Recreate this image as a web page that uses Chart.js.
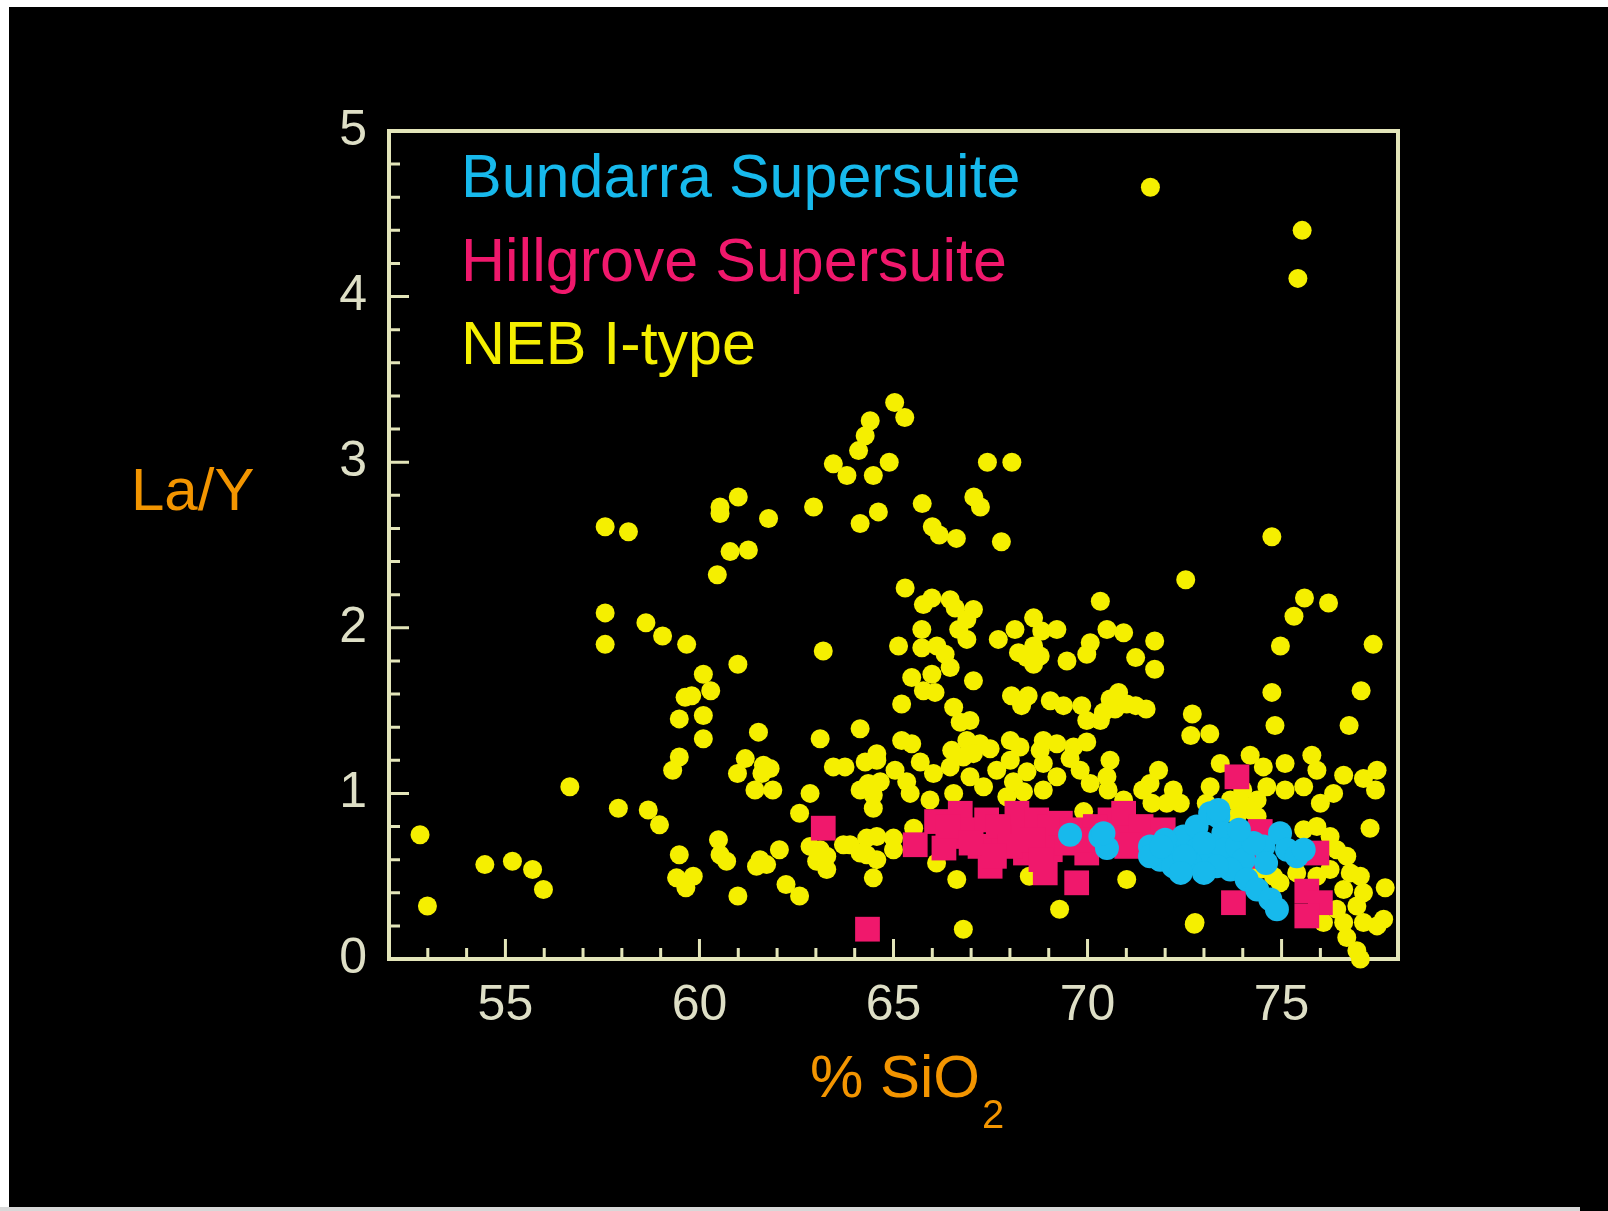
<!DOCTYPE html>
<html lang="en">
<head>
<meta charset="UTF-8">
<title>La/Y vs SiO2</title>
<script src="https://cdn.jsdelivr.net/npm/chart.js"></script>
<style>
    html, body { margin: 0; padding: 0; background: #000; }
    body { width: 1608px; height: 1211px; position: relative; overflow: hidden; }
    #edgeTop { position: absolute; left: 0; top: 0; width: 1608px; height: 7px; background: #fff; }
    #edgeLeft { position: absolute; left: 0; top: 0; width: 9px; height: 1211px; background: #fff; }
    #edgeBottom { position: absolute; left: 0; top: 1207px; width: 1580px; height: 4px; background: #d8d8d8; }
    #chart { position: absolute; left: 0; top: 0; }
</style>
</head>
<body>
<div id="edgeTop"></div>
<div id="edgeLeft"></div>
<div id="edgeBottom"></div>
<canvas id="chart" width="1608" height="1211"></canvas>
<script>
// [SiO2 %, La/Y]
const bundarra = [
    [69.55,0.75],[70.33,0.74],[70.50,0.67],[70.41,0.76],
    [71.61,0.68],[71.87,0.60],[72.21,0.66],[72.47,0.74],[72.81,0.80],[73.16,0.88],[73.37,0.86],[73.50,0.76],
    [72.81,0.66],[73.16,0.60],[73.50,0.66],[73.85,0.68],[74.02,0.60],[73.68,0.54],[74.10,0.48],[74.37,0.42],
    [74.71,0.36],[74.88,0.30],[73.33,0.56],[72.64,0.58],[72.21,0.56],[71.61,0.62],[74.53,0.68],[74.96,0.76],
    [75.14,0.66],[75.39,0.62],[75.57,0.66],[74.28,0.70],[73.37,0.90],
    [72.00,0.72],[72.50,0.62],[73.00,0.70],[73.90,0.78],[74.60,0.58],[71.90,0.68],[72.40,0.52],[73.00,0.52]
];

const hillgrove = [
    [63.19,0.79],[64.33,0.18],
    [65.56,0.69],[66.11,0.83],[66.72,0.88],[66.55,0.74],[66.97,0.78],[67.23,0.68],[67.49,0.56],[67.40,0.84],
    [67.84,0.74],[68.18,0.88],[68.35,0.74],[68.69,0.84],[69.04,0.80],[69.04,0.66],[68.91,0.52],[69.46,0.70],
    [69.72,0.46],[69.98,0.64],[70.58,0.84],[70.84,0.76],[71.01,0.68],[70.93,0.88],[71.38,0.80],[71.10,0.69],
    [69.30,0.82],[68.40,0.64],[66.30,0.67],
    [66.40,0.80],[67.00,0.70],[67.70,0.80],[68.00,0.68],[68.60,0.72],[69.60,0.78],[70.20,0.80],[70.00,0.72],
    [67.60,0.62],[68.80,0.60],[70.50,0.72],
    [73.85,1.10],[71.95,0.78],[74.45,0.77],[75.91,0.64],[73.76,0.34],[75.65,0.41],[76.00,0.34],[75.65,0.26],
    [74.45,0.62]
];

const nebIType = [
    [64.40,3.25],[64.27,3.16],[64.10,3.07],[63.45,2.99],[63.80,2.92],[64.48,2.92],[61.00,2.79],[60.53,2.73],
    [60.53,2.69],[62.94,2.73],[61.78,2.66],[64.14,2.63],[57.57,2.61],[58.17,2.58],[60.79,2.46],[61.26,2.47],
    [60.46,2.32],[57.57,2.09],[57.57,1.90],[58.62,2.03],[59.05,1.95],[59.67,1.90],[63.19,1.86],[60.99,1.78],
    [60.10,1.72],[60.29,1.62],[59.63,1.58],[59.80,1.59],[59.48,1.45],[60.10,1.47],[60.10,1.33],[64.14,1.39],
    [63.11,1.33],[59.48,1.22],[59.31,1.14],[61.52,1.37],[61.18,1.21],[60.98,1.12],[61.65,1.17],[61.82,1.15],
    [61.61,1.12],[61.43,1.02],[61.89,1.02],[62.85,1.00],[62.58,0.88],[63.45,1.16],[63.75,1.16],[64.27,1.19],
    [64.31,1.04],[64.48,0.91],[56.66,1.04],[57.91,0.91],[58.68,0.90],[58.97,0.81],[52.80,0.75],[52.99,0.32],
    [54.47,0.57],[55.18,0.59],[55.70,0.54],[55.98,0.42],[59.48,0.63],[59.41,0.49],[59.84,0.50],[59.65,0.43],
    [60.49,0.72],[60.70,0.59],[60.53,0.63],[60.99,0.38],[61.56,0.60],[61.73,0.57],[62.06,0.66],[62.23,0.45],
    [62.58,0.38],[62.85,0.68],[63.02,0.59],[63.28,0.54],[63.71,0.69],[64.31,0.73],[64.31,0.63],[64.48,0.49],
    [64.57,1.20],[64.14,1.02],[64.61,2.70],
    [63.11,0.66],[63.28,0.62],[63.88,0.69],[64.14,0.64],[64.35,1.06],[64.48,0.99],[61.47,0.56],
    [65.03,3.36],[65.29,3.27],[64.89,3.00],[67.42,3.00],[68.05,3.00],[65.74,2.75],[67.07,2.79],[67.24,2.73],
    [66.00,2.61],[66.18,2.56],[66.62,2.54],[67.78,2.52],[74.75,2.55],[72.53,2.29],[65.30,2.24],
    [65.77,2.14],[65.99,2.18],[66.46,2.17],[66.59,2.12],[67.06,2.11],[66.89,2.05],[66.68,1.99],[66.89,1.93],
    [65.73,1.99],[65.13,1.89],[65.73,1.88],[66.12,1.89],[66.33,1.84],[66.46,1.76],[65.47,1.70],[65.99,1.72],
    [65.77,1.62],[66.07,1.61],[67.06,1.68],[65.21,1.54],[66.55,1.52],[66.72,1.43],[66.97,1.44],
    [67.70,1.93],[68.13,1.99],[68.61,2.06],[68.82,1.98],[69.21,1.99],[68.61,1.89],[68.43,1.82],[68.22,1.85],
    [68.78,1.83],[68.61,1.78],[69.47,1.80],[70.33,2.16],[70.50,1.99],[70.93,1.97],[70.07,1.91],[69.98,1.84],
    [68.04,1.59],[68.30,1.53],[68.47,1.59],[69.04,1.56],[69.38,1.53],[69.85,1.53],[69.98,1.44],[70.41,1.49],
    [70.58,1.57],[70.80,1.61],[70.71,1.51],[70.33,1.44],[71.01,1.54],
    [65.21,1.32],[65.47,1.30],[64.57,1.24],[66.50,1.26],[66.89,1.32],[67.23,1.30],[67.49,1.27],[67.06,1.24],
    [68.01,1.32],[68.26,1.28],[68.86,1.32],[68.78,1.26],[69.21,1.30],[69.64,1.28],[69.98,1.31],
    [71.73,1.92],[77.36,1.90],[74.97,1.89],[71.24,1.82],[71.73,1.75],[71.24,1.53],[71.51,1.51],
    [75.59,2.18],[76.21,2.15],[75.32,2.07],[74.75,1.61],[77.05,1.62],[72.70,1.48],[72.66,1.35],[73.15,1.36],
    [74.83,1.41],[76.74,1.41],[72.75,0.21],
    [65.04,1.14],[64.66,1.07],[65.34,1.07],[65.69,1.19],[66.03,1.12],[66.46,1.16],[66.80,1.22],[66.97,1.10],
    [67.32,1.04],[67.66,1.14],[68.01,1.20],[68.09,1.07],[68.44,1.13],[68.86,1.18],[69.21,1.10],[69.55,1.21],
    [69.81,1.14],[70.07,1.06],[70.50,1.10],[70.58,1.20],[68.86,1.02],[68.35,1.01],[67.92,0.98],[66.55,1.00],
    [65.94,0.96],[65.43,1.00],[70.93,0.96],[69.90,0.89],[64.57,0.74],[65.00,0.73],[65.00,0.66],
    [64.57,0.60],[65.52,0.79],[66.11,0.58],[66.63,0.48],[68.50,0.50],[69.28,0.30],[66.80,0.18],[71.01,0.48],
    [70.53,1.02],[71.42,1.02],
    [71.83,1.14],[71.61,1.06],[72.21,1.02],[72.39,0.94],[72.04,0.94],[71.66,0.94],[73.16,1.04],[73.42,1.18],
    [74.19,1.23],[74.53,1.16],[74.62,1.04],[75.09,1.18],[75.09,1.02],[75.57,1.04],[75.78,1.23],[75.91,1.14],
    [76.34,1.00],[76.00,0.94],[76.60,1.11],[77.11,1.09],[77.46,1.14],[77.42,1.02],[77.28,0.79],[77.67,0.43],
    [72.77,0.22],[73.06,0.94],[73.68,0.96],[74.02,0.93],[74.37,0.96],[73.85,0.86],[74.37,0.86],[75.57,0.78],
    [75.91,0.80],[76.25,0.74],[76.42,0.66],[76.68,0.62],[76.25,0.54],[76.77,0.52],[77.03,0.50],[76.60,0.42],
    [77.11,0.40],[76.94,0.32],[76.42,0.30],[76.08,0.22],[76.60,0.22],[77.11,0.22],[77.46,0.20],[76.68,0.13],
    [76.94,0.05],[77.03,0.00],[77.63,0.24],[75.91,0.50],[75.39,0.52],[74.79,0.50],[74.45,0.54],[74.96,0.46],
    [74.00,1.02],[74.20,0.90],
    [71.62,4.66],[75.53,4.40],[75.42,4.11]
];

const xTickValues = [55, 60, 65, 70, 75];
const yTickValues = [0, 1, 2, 3, 4, 5];

const fontFamily = "'Liberation Sans', Arial, sans-serif";
const frameColor = '#e3e5b9';
const labelColor = '#dedfc6';
const titleColor = '#f39500';

const toXY = pts => pts.map(p => ({ x: p[0], y: p[1] }));

// box round the plot, with inward tick marks on the left and bottom edges
const framePlugin = {
    id: 'frame',
    beforeDatasetsDraw(chart) {
        const { ctx, chartArea: a, scales: { x, y } } = chart;
        ctx.save();
        ctx.strokeStyle = frameColor;
        ctx.lineWidth = 4;
        ctx.strokeRect(a.left, a.top, a.right - a.left, a.bottom - a.top);
        ctx.lineWidth = 3;
        ctx.beginPath();
        for (let v = 53; v < 78; v++) {
            const px = x.getPixelForValue(v);
            const len = v % 5 === 0 ? 20 : 11;
            ctx.moveTo(px, a.bottom);
            ctx.lineTo(px, a.bottom - len);
        }
        for (let i = 1; i < 25; i++) {
            const py = y.getPixelForValue(i / 5);
            const len = i % 5 === 0 ? 20 : 11;
            ctx.moveTo(a.left, py);
            ctx.lineTo(a.left + len, py);
        }
        ctx.stroke();
        ctx.restore();
    }
};

// coloured series names in the upper left of the plot
const seriesNames = {
    id: 'seriesNames',
    afterDraw(chart) {
        const { ctx, chartArea: a } = chart;
        ctx.save();
        ctx.font = `61px ${fontFamily}`;
        ctx.textBaseline = 'alphabetic';
        ctx.textAlign = 'left';
        chart.data.datasets.forEach((ds, i) => {
            ctx.fillStyle = ds.backgroundColor;
            ctx.fillText(ds.label, a.left + 72, a.top + 66 + i * 83.5);
        });
        ctx.restore();
    }
};

const axisTitles = {
    id: 'axisTitles',
    afterDraw(chart) {
        const { ctx } = chart;
        ctx.save();
        ctx.fillStyle = titleColor;
        ctx.textBaseline = 'alphabetic';
        ctx.textAlign = 'left';
        ctx.font = `60px ${fontFamily}`;
        ctx.fillText('La/Y', 131, 510);
        ctx.fillText('% SiO', 810, 1097);
        ctx.font = `40px ${fontFamily}`;
        ctx.fillText('2', 982, 1128);
        ctx.restore();
    }
};

const ctx = document.getElementById('chart').getContext('2d');
const chart = new Chart(ctx, {
    type: 'scatter',
    data: {
        datasets: [
            {
                label: 'Bundarra Supersuite',
                data: toXY(bundarra),
                backgroundColor: '#17b9ec',
                pointStyle: 'circle',
                pointRadius: 12,
                borderWidth: 0,
                clip: false
            },
            {
                label: 'Hillgrove Supersuite',
                data: toXY(hillgrove),
                backgroundColor: '#f0186c',
                pointStyle: 'rect',
                pointRadius: 17.5,
                borderWidth: 0,
                clip: false
            },
            {
                label: 'NEB I-type',
                data: toXY(nebIType),
                backgroundColor: '#f5ef00',
                pointStyle: 'circle',
                pointRadius: 9.5,
                borderWidth: 0,
                clip: false
            }
        ]
    },
    options: {
        responsive: false,
        animation: false,
        devicePixelRatio: 1,
        layout: { padding: { left: 0, top: 131, right: 210, bottom: 152 } },
        plugins: {
            legend: { display: false },
            tooltip: { enabled: false }
        },
        scales: {
            x: {
                type: 'linear',
                min: 52,
                max: 78,
                grid: { display: false },
                border: { display: false },
                afterBuildTicks: s => { s.ticks = xTickValues.map(v => ({ value: v })); },
                afterFit: s => { s.height = 100; },
                ticks: {
                    color: labelColor,
                    font: { family: fontFamily, size: 50 },
                    padding: 9,
                    maxRotation: 0,
                    autoSkip: false
                }
            },
            y: {
                type: 'linear',
                min: 0,
                max: 5,
                grid: { display: false },
                border: { display: false },
                afterBuildTicks: s => { s.ticks = yTickValues.map(v => ({ value: v })); },
                afterFit: s => { s.width = 389; },
                ticks: {
                    color: labelColor,
                    font: { family: fontFamily, size: 50 },
                    padding: 14,
                    autoSkip: false
                }
            }
        }
    },
    plugins: [framePlugin, seriesNames, axisTitles]
});
</script>
</body>
</html>
